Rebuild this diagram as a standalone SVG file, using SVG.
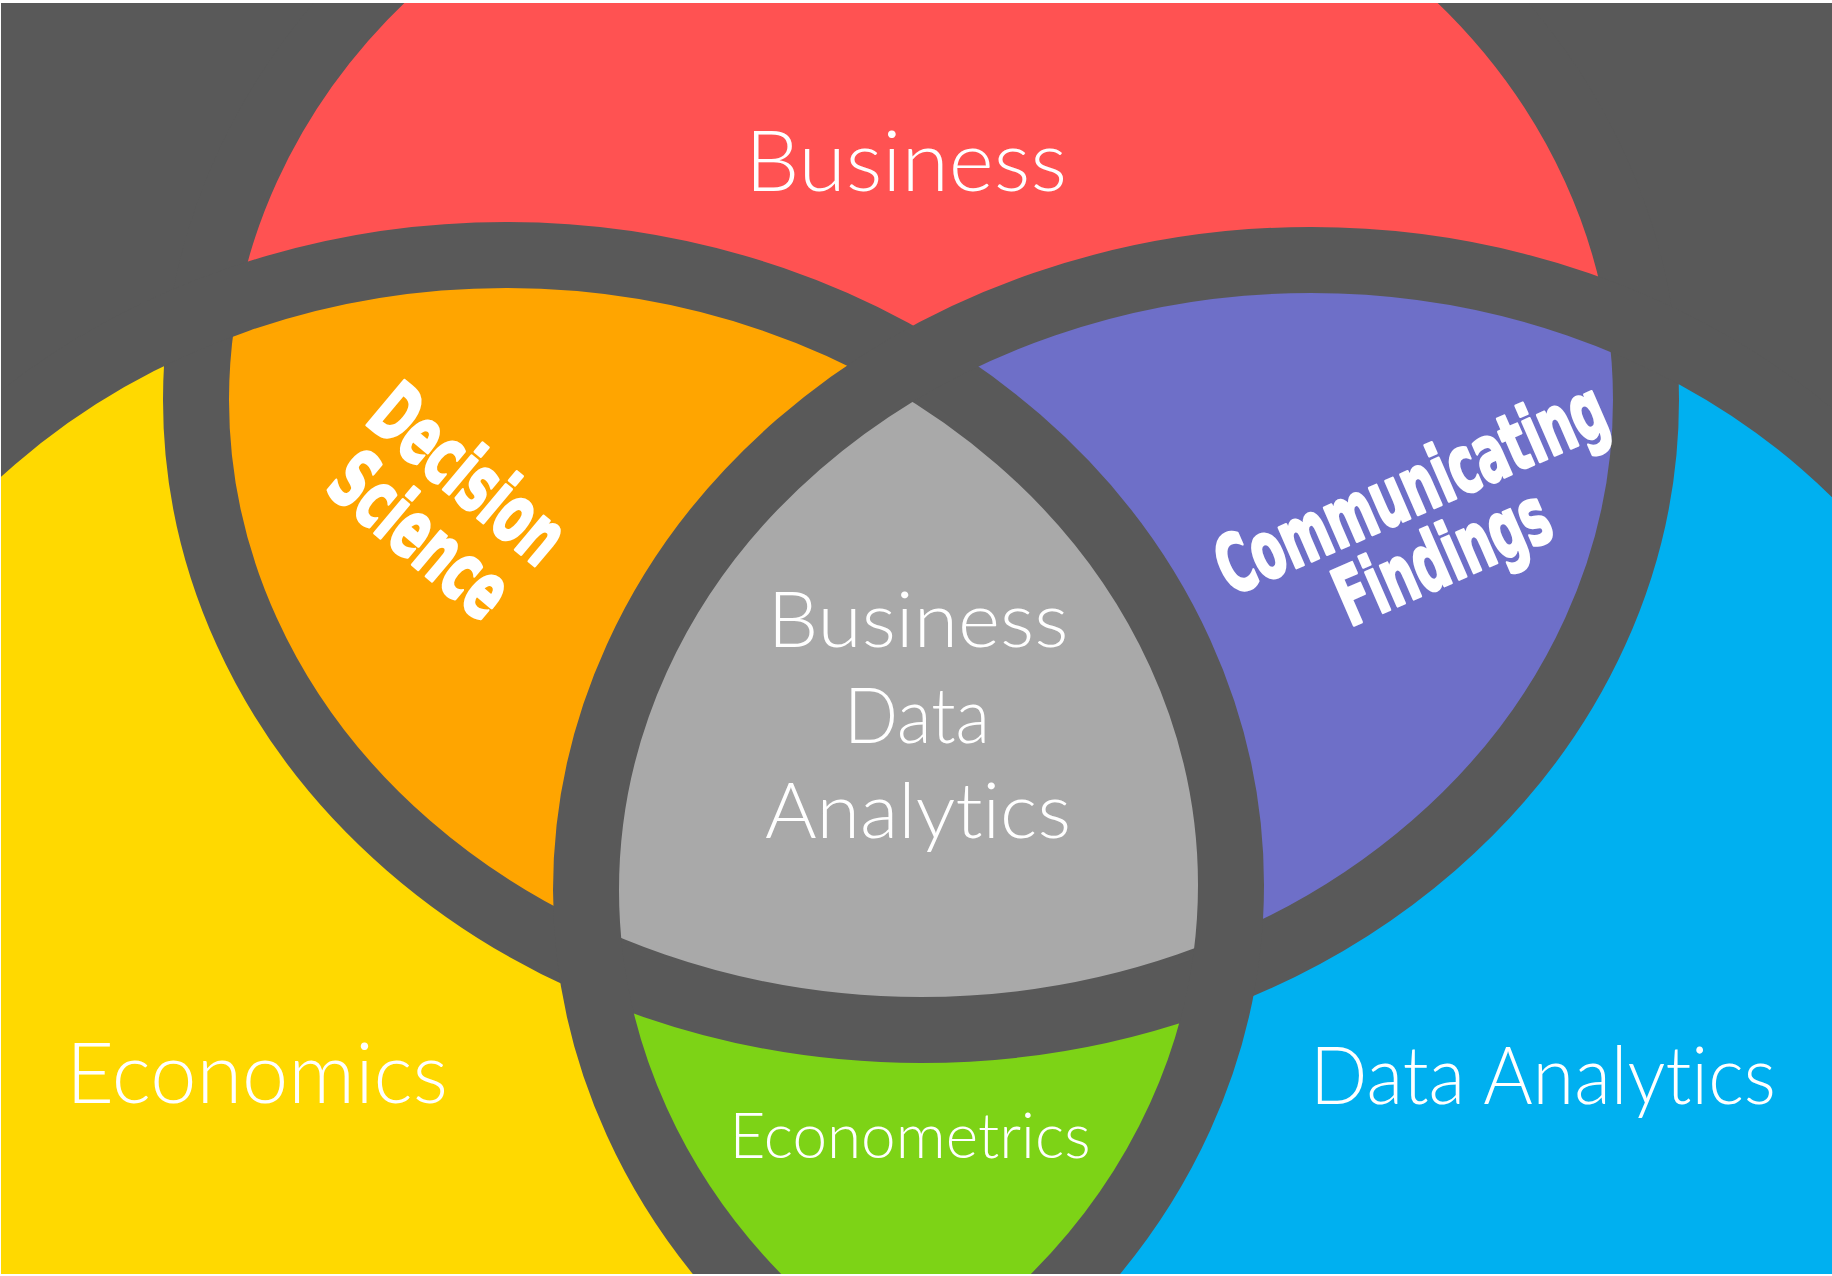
<svg xmlns="http://www.w3.org/2000/svg" xmlns:xlink="http://www.w3.org/1999/xlink" width="1832" height="1276" viewBox="0 0 1832 1276">
  <style>
    .lbl { font-family: Lato, "Open Sans", "Liberation Sans", sans-serif; font-weight: 300; fill: #ffffff; text-anchor: middle; font-variant-ligatures: none; font-feature-settings: "liga" 0, "clig" 0; }
    .bold { font-family: "Liberation Sans Narrow", "DejaVu Sans Condensed", "Liberation Sans", sans-serif; font-weight: bold; fill: #ffffff; stroke: #ffffff; stroke-width: 3; stroke-linejoin: round; text-anchor: middle; font-size: 80px; font-variant-ligatures: none; }
    .ring { fill: none; stroke: #595959; stroke-width: 66; }
  </style>
  <defs>
    <ellipse id="eA" cx="921" cy="400" rx="725" ry="630"/>
    <ellipse id="eB" cx="506" cy="885" rx="725" ry="630"/>
    <ellipse id="eC" cx="1311" cy="890" rx="725" ry="630"/>
    <clipPath id="cA"><ellipse cx="921" cy="400" rx="725" ry="630"/></clipPath>
    <clipPath id="cB"><ellipse cx="506" cy="885" rx="725" ry="630"/></clipPath>
  </defs>

  <rect x="0" y="0" width="1832" height="1276" fill="#595959"/>

  <g id="regions">
    <use id="fill-business" xlink:href="#eA" href="#eA" fill="#FF5252"/>
    <use id="fill-economics" xlink:href="#eB" href="#eB" fill="#FFD900"/>
    <use id="fill-data-analytics" xlink:href="#eC" href="#eC" fill="#00B0F0"/>
    <use id="fill-decision-science" xlink:href="#eB" href="#eB" fill="#FFA500" clip-path="url(#cA)"/>
    <use id="fill-communicating" xlink:href="#eC" href="#eC" fill="#6E6FC8" clip-path="url(#cA)"/>
    <use id="fill-econometrics" xlink:href="#eC" href="#eC" fill="#7DD316" clip-path="url(#cB)"/>
    <g clip-path="url(#cA)">
      <use id="fill-center" xlink:href="#eC" href="#eC" fill="#A9A9A9" clip-path="url(#cB)"/>
    </g>
  </g>

  <g id="rings">
    <use xlink:href="#eA" href="#eA" class="ring"/>
    <use xlink:href="#eB" href="#eB" class="ring"/>
    <use xlink:href="#eC" href="#eC" class="ring"/>
  </g>

  <g id="node-business">
    <text class="lbl" x="906" y="191" font-size="85" textLength="322" lengthAdjust="spacingAndGlyphs">Business</text>
  </g>
  <g id="node-economics">
    <text class="lbl" x="257" y="1103" font-size="84" textLength="382" lengthAdjust="spacingAndGlyphs">Economics</text>
  </g>
  <g id="node-data-analytics">
    <text class="lbl" x="1543" y="1104" font-size="80" textLength="466" lengthAdjust="spacingAndGlyphs">Data Analytics</text>
  </g>
  <g id="node-business-data-analytics">
    <text class="lbl" x="918" y="647" font-size="77" textLength="301" lengthAdjust="spacingAndGlyphs">Business</text>
    <text class="lbl" x="917" y="743" font-size="77" textLength="146" lengthAdjust="spacingAndGlyphs">Data</text>
    <text class="lbl" x="918" y="838" font-size="77" textLength="306" lengthAdjust="spacingAndGlyphs">Analytics</text>
  </g>
  <g id="node-econometrics">
    <text class="lbl" x="910" y="1158" font-size="64" textLength="361" lengthAdjust="spacingAndGlyphs">Econometrics</text>
  </g>
  <g id="node-decision-science">
    <g transform="translate(466,477) rotate(40)">
      <text class="bold" x="0" y="24" textLength="228" lengthAdjust="spacingAndGlyphs">Decision</text>
    </g>
    <g transform="translate(418,538) rotate(40)">
      <text class="bold" x="0" y="24" textLength="208" lengthAdjust="spacingAndGlyphs">Science</text>
    </g>
  </g>
  <g id="node-communicating-findings">
    <g transform="translate(1413,493) rotate(-23.5)">
      <text class="bold" x="0" y="22" textLength="417" lengthAdjust="spacingAndGlyphs">Communicating</text>
    </g>
    <g transform="translate(1443,558) rotate(-23.5)">
      <text class="bold" x="0" y="26" textLength="226" lengthAdjust="spacingAndGlyphs">Findings</text>
    </g>
  </g>

  <g id="border">
    <rect x="0" y="0" width="1832" height="3" fill="#ffffff"/>
    <rect x="0" y="0" width="1" height="1276" fill="#ffffff"/>
    <rect x="0" y="1274" width="1832" height="2" fill="#ffffff"/>
  </g>
</svg>
